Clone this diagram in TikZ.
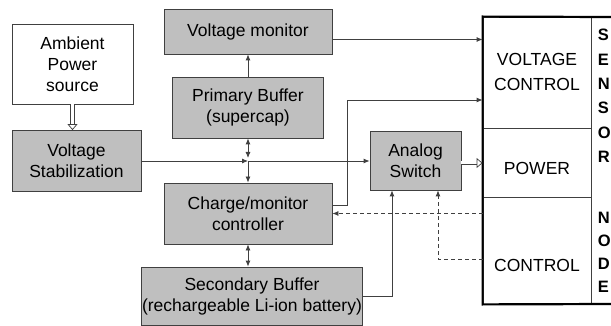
\documentclass[tikz,border=0pt]{standalone}
\usepackage{fontspec}
\setmainfont{Liberation Sans}
\newfontfamily\sensorfont{Liberation Sans Bold}
\usetikzlibrary{arrows.meta}
\begin{document}
\begin{tikzpicture}[x=1pt, y=-1pt, line width=0.8pt,
  every node/.style={font=\fontsize{17.5}{21}\selectfont, align=center},
  blk/.style={draw=black!75, fill=gray!50, inner sep=0pt},
  cell/.style={draw=black!75, inner sep=0pt, minimum width=108pt},
  arr/.style={draw=black!75, -{Latex[length=6pt,width=5pt]}},
  arrb/.style={draw=black!75, {Latex[length=6pt,width=5pt]}-{Latex[length=6pt,width=5pt]}},
  darr/.style={arr, dash pattern=on 4pt off 3pt},
  hollow/.style={draw=black!75, double, double distance=3pt, line width=0.7pt, -{Triangle[open,length=6pt,width=10pt]}},
  letter/.style={font=\sensorfont\fontsize{16.5}{16.5}\selectfont, anchor=west, inner sep=0pt}]
  \useasboundingbox (0,0) rectangle (611,326);
  \node[draw=black!75, fill=white, inner sep=0pt, minimum width=121pt, minimum height=80pt] (amb) at (72.5,64) {Ambient\\Power\\source};
  \node[blk, minimum width=129pt, minimum height=61pt] (stab) at (76.5,161) {Voltage\\Stabilization};
  \node[blk, minimum width=168pt, minimum height=45pt] (vmon) at (248,31.5) {Voltage monitor};
  \node[blk, minimum width=151pt, minimum height=61pt] (pbuf) at (248,107.5) {Primary Buffer\\(supercap)};
  \node[blk, minimum width=168pt, minimum height=61pt] (ctrl) at (248,213.5) {Charge/monitor\\controller};
  \node[blk, minimum width=221pt, minimum height=58pt] (sbuf) at (252,296) {Secondary Buffer\\(rechargeable Li-ion battery)};
  \node[blk, minimum width=91pt, minimum height=59pt] (asw) at (415.5,160.5) {Analog\\Switch};
  \node[cell, minimum height=111pt] (vcell) at (537,72.5) {};
  \node[cell, minimum height=69pt] (pcell) at (537,162.5) {};
  \node[cell, minimum height=107pt] (ccell) at (537,250.5) {};
  \node[font=\fontsize{17.5}{25}\selectfont] (vtxt) at (537,72) {VOLTAGE\\CONTROL};
  \node (ptxt) at (537,168) {POWER};
  \node (ctxt) at (537,265) {CONTROL};
  \draw[line width=2.2pt] (611,17) -- (vcell.north west) -- (ccell.south west) -- (611,304);
  \foreach \c [count=\i from 0] in {S,E,N,S,O,R}
    \node[letter] (s\i) at (597.5,35+24.4*\i) {\c};
  \foreach \c [count=\i from 0] in {N,O,D,E}
    \node[letter] (n\i) at (597.5,218+23*\i) {\c};
  \coordinate (J) at (248,161);
  \draw[arr] (stab.east) -- (J);
  \draw[arr] (J) -- (J -| asw.west);
  \draw[arrb] (pbuf.south) -- ([yshift=3pt]J);
  \draw[arr] (J) -- (ctrl.north);
  \draw[arr] (pbuf.north) -- (vmon.south);
  \draw[arrb] (ctrl.south) -- (ctrl.south |- sbuf.north);
  \draw[arr] ([yshift=-8pt]vmon.east) -- ([yshift=-8pt]vmon.east -| vcell.west);
  \draw[arr] ([yshift=8pt]ctrl.east) -- ++(15,0) |- ([yshift=-27.5pt]vcell.west);
  \draw[arr] (sbuf.east) -| ([xshift=-23.5pt]asw.south);
  \draw[darr] (ccell.west |- ctrl.east) -- (ctrl.east);
  \draw[darr] ([yshift=-8.5pt]ccell.west) -| ([xshift=22.5pt]asw.south);
  \draw[hollow] ([yshift=-2.5pt]asw.east) -- ([yshift=-2.5pt]asw.east -| pcell.west);
  \draw[hollow] (amb.south) -- (amb.south |- stab.north);
\end{tikzpicture}
\end{document}
